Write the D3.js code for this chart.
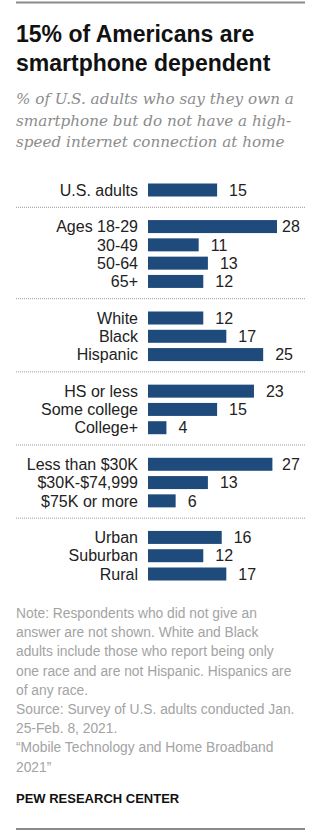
<!DOCTYPE html>
<html>
<head>
<meta charset="utf-8">
<script src="https://cdn.jsdelivr.net/npm/d3@7"></script>
<style>
  body { margin: 0; background: #fff; }
  svg { display: block; }
</style>
</head>
<body>
<svg id="chart"></svg>
<script>
// categories and values, group by group
var groupNames = ["total", "age", "race", "education", "income", "locale"];
var totalCats = ["U.S. adults"];
var totalVals = [15];
var ageCats = ["Ages 18-29", "30-49", "50-64", "65+"];
var ageVals = [28, 11, 13, 12];
var raceCats = ["White", "Black", "Hispanic"];
var raceVals = [12, 17, 25];
var eduCats = ["HS or less", "Some college", "College+"];
var eduVals = [23, 15, 4];
var incomeCats = ["Less than $30K", "$30K-$74,999", "$75K or more"];
var incomeVals = [27, 13, 6];
var localeCats = ["Urban", "Suburban", "Rural"];
var localeVals = [16, 12, 17];

var title = ["15% of Americans are", "smartphone dependent"];
var subtitle = ["% of U.S. adults who say they own a",
                "smartphone but do not have a high-",
                "speed internet connection at home"];
var notes = ["Note: Respondents who did not give an",
             "answer are not shown. White and Black",
             "adults include those who report being only",
             "one race and are not Hispanic. Hispanics are",
             "of any race.",
             "Source: Survey of U.S. adults conducted Jan.",
             "25-Feb. 8, 2021.",
             "\u201cMobile Technology and Home Broadband",
             "2021\u201d"];

var width = 330, height = 830;
var svg = d3.select("#chart").attr("width", width).attr("height", height);

var sans = "'Liberation Sans', Arial, sans-serif";
var serif = "'DejaVu Serif', Georgia, serif";

// build rows with a blank slot between groups
var groups = [[totalCats, totalVals], [ageCats, ageVals], [raceCats, raceVals],
              [eduCats, eduVals], [incomeCats, incomeVals], [localeCats, localeVals]];
var rows = [], seps = [], slot = 0;
groups.forEach(function(g, gi){
  if (gi > 0) { seps.push(slot); slot++; }
  g[0].forEach(function(c, i){
    rows.push({cat: c, val: g[1][i], slot: slot, group: groupNames[gi]});
    slot++;
  });
});

var x = d3.scaleLinear().domain([0, 28]).range([148, 277]);
var y = d3.scaleLinear().domain([0, slot - 1]).range([190, 574]);
var barH = 13;

// top and bottom rules
svg.append("line").attr("x1", 16).attr("x2", 305).attr("y1", 2.5).attr("y2", 2.5)
   .attr("stroke", "#8a8a8a").attr("stroke-width", 2);
svg.append("line").attr("x1", 16).attr("x2", 305).attr("y1", 829).attr("y2", 829)
   .attr("stroke", "#8a8a8a").attr("stroke-width", 2);

// title
svg.append("g").selectAll("text").data(title).enter().append("text")
  .attr("x", 16).attr("y", function(d, i){ return 42 + i * 28.5; })
  .style("font-family", sans).style("font-weight", "bold")
  .style("font-size", "23px").attr("fill", "#111")
  .text(function(d){ return d; });

// subtitle
svg.append("g").selectAll("text").data(subtitle).enter().append("text")
  .attr("x", 16).attr("y", function(d, i){ return 104 + i * 21.5; })
  .style("font-family", serif).style("font-style", "italic")
  .style("font-size", "15.2px").attr("fill", "#8c8c8c")
  .text(function(d){ return d; });

// dotted separators
svg.append("g").selectAll("line").data(seps).enter().append("line")
  .attr("x1", 16).attr("x2", 305)
  .attr("y1", function(d){ return y(d) - 1; })
  .attr("y2", function(d){ return y(d) - 1; })
  .attr("stroke", "#9a9a9a").attr("stroke-width", 1)
  .attr("stroke-dasharray", "1,1");

var row = svg.append("g").selectAll("g").data(rows).enter().append("g");

row.append("rect")
  .attr("x", x(0))
  .attr("y", function(d){ return y(d.slot) - barH / 2; })
  .attr("width", function(d){ return x(d.val) - x(0); })
  .attr("height", barH)
  .attr("fill", "#1f4a7c");

row.append("text")
  .attr("x", 138)
  .attr("y", function(d){ return y(d.slot); })
  .attr("dy", "0.36em")
  .attr("text-anchor", "end")
  .style("font-family", sans).style("font-size", "16px")
  .attr("fill", "#222")
  .text(function(d){ return d.cat; });

row.append("text")
  .attr("x", function(d){ return Math.min(x(d.val) + 12, 282); })
  .attr("y", function(d){ return y(d.slot); })
  .attr("dy", "0.36em")
  .style("font-family", sans).style("font-size", "16px")
  .attr("fill", "#222")
  .text(function(d){ return d.val; });

// notes
svg.append("g").selectAll("text").data(notes).enter().append("text")
  .attr("x", 16).attr("y", function(d, i){ return 618 + i * 19.2; })
  .style("font-family", sans).style("font-size", "13.8px")
  .attr("fill", "#a3a3a3")
  .text(function(d){ return d; });

svg.append("text").attr("x", 16).attr("y", 803)
  .style("font-family", sans).style("font-weight", "bold")
  .style("font-size", "13px").attr("fill", "#111")
  .text("PEW RESEARCH CENTER");
</script>
</body>
</html>
